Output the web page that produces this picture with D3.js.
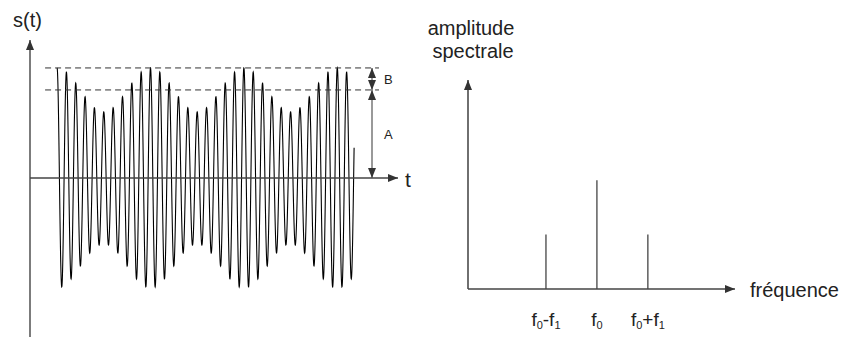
<!DOCTYPE html>
<html>
<head>
<meta charset="utf-8">
<script src="https://cdn.jsdelivr.net/npm/d3@7"></script>
<style>
  body { margin: 0; background: #fff; }
  text { font-family: "Liberation Sans", Arial, Helvetica, sans-serif; fill: #222; }
</style>
</head>
<body>
<div id="chart"></div>
<script>
// AM signal parameters
const ampA = 4;          // carrier amplitude A
const ampB = 1;          // modulation depth B
const carrierFreq = 10;  // f0 (cycles per unit t)
const modFreq = 1;       // f1
const tEnd = 3.18;       // the trace stops here, mid-rise

// spectrum
const specFreqs = [carrierFreq - modFreq, carrierFreq, carrierFreq + modFreq];
const specAmps = [0.5, 1, 0.5];
const specLabels = ["f_0-f_1", "f_0", "f_0+f_1"];

const width = 846, height = 338;
const axisColor = "#444";

const svg = d3.select("#chart").append("svg")
    .attr("width", width)
    .attr("height", height);

const defs = svg.append("defs");
defs.append("marker")
    .attr("id", "arrow")
    .attr("viewBox", "0 0 10 10")
    .attr("refX", 10).attr("refY", 5)
    .attr("markerWidth", 10).attr("markerHeight", 10)
    .attr("markerUnits", "userSpaceOnUse")
    .attr("orient", "auto")
    .append("path")
    .attr("d", "M0,1 L10,5 L0,9 Z")
    .attr("fill", "#333");

// ---------- time signal ----------
const x = d3.scaleLinear().domain([-0.29, 3.65]).range([30, 398]);
const y = d3.scaleLinear().domain([-7.23, 6.27]).range([337, 40]);

const s = (t) => (ampA + ampB * Math.cos(2 * Math.PI * modFreq * t)) * Math.cos(2 * Math.PI * carrierFreq * t);
const samples = d3.range(0, tEnd, 0.0015).concat([tEnd]).map(t => [t, s(t)]);

svg.append("path")
    .datum(samples)
    .attr("fill", "none")
    .attr("stroke", "#000")
    .attr("stroke-width", 1.1)
    .attr("d", d3.line().x(d => x(d[0])).y(d => y(d[1])));

// axes
svg.append("line")
    .attr("x1", x.range()[0]).attr("x2", x.range()[0])
    .attr("y1", y.range()[0]).attr("y2", y.range()[1])
    .attr("stroke", axisColor).attr("stroke-width", 1.4)
    .attr("marker-end", "url(#arrow)");
svg.append("line")
    .attr("x1", x.range()[0]).attr("x2", x.range()[1])
    .attr("y1", y(0)).attr("y2", y(0))
    .attr("stroke", axisColor).attr("stroke-width", 1.4)
    .attr("marker-end", "url(#arrow)");

svg.append("text").attr("x", 13).attr("y", 27)
    .attr("font-size", 20).text("s(t)");
svg.append("text").attr("x", 405).attr("y", 187)
    .attr("font-size", 21).text("t");

// dashed reference levels A+B and A
const bracketX = 372;
[ampA + ampB, ampA].forEach(v => {
  svg.append("line")
      .attr("x1", x(0) - 12).attr("x2", bracketX + 7)
      .attr("y1", y(v)).attr("y2", y(v))
      .attr("stroke", "#333").attr("stroke-width", 1)
      .attr("stroke-dasharray", "6,4");
});

// double arrows for B and A
function doubleArrow(v0, v1) {
  const mid = (y(v0) + y(v1)) / 2;
  [v0, v1].forEach(v => {
    svg.append("line")
        .attr("x1", bracketX).attr("x2", bracketX)
        .attr("y1", mid).attr("y2", y(v))
        .attr("stroke", "#555").attr("stroke-width", 1.2)
        .attr("marker-end", "url(#arrow)");
  });
}
doubleArrow(ampA + ampB, ampA);
doubleArrow(ampA, 0);

svg.append("text").attr("x", 384).attr("y", y(ampA + ampB / 2) + 5)
    .attr("font-size", 13).text("B");
svg.append("text").attr("x", 384).attr("y", y(ampA / 2) + 5)
    .attr("font-size", 13).text("A");

// ---------- spectrum ----------
const fx = d3.scaleLinear().domain([7.47, 12.71]).range([468, 735]);
const fy = d3.scaleLinear().domain([0, 1.92]).range([289, 80]);

svg.selectAll(".spec")
    .data(specFreqs)
    .join("line")
    .attr("class", "spec")
    .attr("x1", d => fx(d)).attr("x2", d => fx(d))
    .attr("y1", fy(0)).attr("y2", (d, i) => fy(specAmps[i]))
    .attr("stroke", axisColor).attr("stroke-width", 1.3);

svg.append("line")
    .attr("x1", fx.range()[0]).attr("x2", fx.range()[0])
    .attr("y1", fy.range()[0]).attr("y2", fy.range()[1])
    .attr("stroke", "#333").attr("stroke-width", 1.4)
    .attr("marker-end", "url(#arrow)");
svg.append("line")
    .attr("x1", fx.range()[0]).attr("x2", fx.range()[1])
    .attr("y1", fy(0)).attr("y2", fy(0))
    .attr("stroke", axisColor).attr("stroke-width", 1.4)
    .attr("marker-end", "url(#arrow)");

const yTitle = svg.append("text").attr("text-anchor", "middle").attr("font-size", 20);
yTitle.append("tspan").attr("x", 471).attr("y", 35).text("amplitude");
yTitle.append("tspan").attr("x", 473).attr("y", 58).text("spectrale");

svg.append("text").attr("x", 750).attr("y", 297)
    .attr("font-size", 20).text("fréquence");

// frequency labels with subscripts
svg.selectAll(".flab")
    .data(specFreqs)
    .join("text")
    .attr("class", "flab")
    .attr("x", d => fx(d))
    .attr("y", 326)
    .attr("text-anchor", "middle")
    .attr("font-size", 19)
    .each(function (d, i) {
      const el = d3.select(this);
      const parts = specLabels[i].split(/(_\d)/).filter(p => p !== "");
      let shifted = false;
      parts.forEach(p => {
        if (p.startsWith("_")) {
          el.append("tspan").attr("font-size", 11).attr("dy", 3).text(p.slice(1));
          shifted = true;
        } else {
          el.append("tspan").attr("dy", shifted ? -3 : 0).text(p);
          shifted = false;
        }
      });
    });
</script>
</body>
</html>
